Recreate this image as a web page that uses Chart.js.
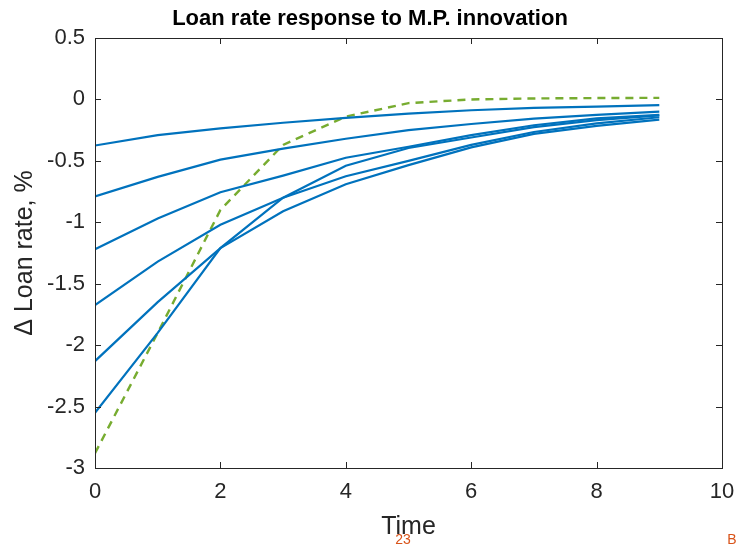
<!DOCTYPE html>
<html>
<head>
<meta charset="utf-8">
<title>Loan rate response</title>
<script src="https://cdn.jsdelivr.net/npm/chart.js@4.4.1/dist/chart.umd.min.js"></script>
<style>
    html, body { margin: 0; padding: 0; background: #fff; }
</style>
</head>
<body>
<canvas id="loanChart" width="738" height="547"></canvas>
<script>
// periods after the shock
const time = [0, 1, 2, 3, 4, 5, 6, 7, 8, 9];

// blue responses (one per initial level)
const resp1 = [-0.375, -0.29, -0.235, -0.19, -0.15, -0.115, -0.088, -0.068, -0.058, -0.046];
const resp2 = [-0.79, -0.63, -0.49, -0.40, -0.32, -0.25, -0.20, -0.157, -0.125, -0.10];
const resp3 = [-1.22, -0.97, -0.755, -0.62, -0.475, -0.385, -0.29, -0.21, -0.155, -0.125];
const resp4 = [-1.675, -1.32, -1.02, -0.80, -0.625, -0.50, -0.37, -0.265, -0.195, -0.145];
const resp5 = [-2.13, -1.65, -1.21, -0.91, -0.69, -0.535, -0.39, -0.28, -0.215, -0.165];
const resp6 = [-2.55, -1.90, -1.21, -0.80, -0.54, -0.395, -0.31, -0.225, -0.168, -0.13];

// green dashed response
const greenResp = [-2.88, -1.90, -0.90, -0.37, -0.14, -0.03, 0.0, 0.008, 0.011, 0.013];

const xTicks = [0, 2, 4, 6, 8, 10];
const yTicks = [0.5, 0, -0.5, -1, -1.5, -2, -2.5, -3];

const blue = '#0072BD';
const green = '#77AC30';
const axisColor = '#262626';
const fontFam = '"Liberation Sans", Arial, sans-serif';

function toPoints(ys) {
    return time.map(function(t, i) { return {x: t, y: ys[i]}; });
}

const blueSeries = [resp1, resp2, resp3, resp4, resp5, resp6];
const datasets = blueSeries.map(function(ys) {
    return {
        data: toPoints(ys),
        borderColor: blue,
        borderWidth: 2.2,
        pointRadius: 0,
        tension: 0,
        fill: false
    };
});
datasets.push({
    data: toPoints(greenResp),
    borderColor: green,
    borderWidth: 2.4,
    borderDash: [8, 6],
    pointRadius: 0,
    tension: 0,
    fill: false
});

// box, inward ticks and extra labels, matlab style
const boxPlugin = {
    id: 'boxPlugin',
    afterDraw(chart) {
        const ctx = chart.ctx;
        const a = chart.chartArea;
        const xs = chart.scales.x;
        const ys = chart.scales.y;
        const tick = 6;
        ctx.save();
        ctx.strokeStyle = axisColor;
        ctx.lineWidth = 1;
        ctx.strokeRect(Math.round(a.left) + 0.5, Math.round(a.top) + 0.5,
            Math.round(a.right - a.left), Math.round(a.bottom - a.top));
        ctx.beginPath();
        xTicks.forEach(function(v) {
            const px = Math.round(xs.getPixelForValue(v)) + 0.5;
            ctx.moveTo(px, a.bottom); ctx.lineTo(px, a.bottom - tick);
            ctx.moveTo(px, a.top); ctx.lineTo(px, a.top + tick);
        });
        yTicks.forEach(function(v) {
            const py = Math.round(ys.getPixelForValue(v)) + 0.5;
            ctx.moveTo(a.left, py); ctx.lineTo(a.left + tick, py);
            ctx.moveTo(a.right, py); ctx.lineTo(a.right - tick, py);
        });
        ctx.stroke();

        // title
        ctx.fillStyle = '#000';
        ctx.font = 'bold 22px ' + fontFam;
        ctx.textAlign = 'center';
        ctx.textBaseline = 'middle';
        ctx.fillText('Loan rate response to M.P. innovation', 370, 19);

        // stray orange labels
        ctx.fillStyle = '#D95319';
        ctx.font = '14px ' + fontFam;
        ctx.fillText('23', 403, 540);
        ctx.fillText('B', 732, 540);
        ctx.restore();
    }
};

const config = {
    type: 'line',
    data: { datasets: datasets },
    options: {
        responsive: false,
        devicePixelRatio: 1,
        animation: false,
        layout: { padding: { top: 38, right: 16, left: 0, bottom: 0 } },
        plugins: {
            legend: { display: false },
            tooltip: { enabled: false }
        },
        scales: {
            x: {
                type: 'linear',
                min: 0,
                max: 10,
                afterBuildTicks: function(scale) {
                    scale.ticks = xTicks.map(function(v) { return {value: v}; });
                },
                afterFit: function(scale) {
                    scale.height = 79;
                    scale.paddingLeft = 0;
                    scale.paddingRight = 0;
                },
                grid: { display: false, drawTicks: false },
                border: { display: false },
                ticks: {
                    color: axisColor,
                    padding: 11,
                    font: { family: fontFam, size: 22 },
                    maxRotation: 0
                },
                title: {
                    display: true,
                    text: 'Time',
                    color: axisColor,
                    font: { family: fontFam, size: 25 },
                    padding: { top: 0, bottom: 5 }
                }
            },
            y: {
                type: 'linear',
                min: -3,
                max: 0.5,
                afterBuildTicks: function(scale) {
                    scale.ticks = yTicks.map(function(v) { return {value: v}; });
                },
                afterFit: function(scale) {
                    scale.width = 95;
                    scale.paddingTop = 0;
                    scale.paddingBottom = 0;
                },
                grid: { display: false, drawTicks: false },
                border: { display: false },
                ticks: {
                    color: axisColor,
                    padding: 10,
                    font: { family: fontFam, size: 22 },
                    callback: function(v) { return String(v); }
                },
                title: {
                    display: true,
                    text: '\u0394 Loan rate, %',
                    color: axisColor,
                    font: { family: fontFam, size: 25 },
                    padding: { top: 10, bottom: 0 }
                }
            }
        }
    },
    plugins: [boxPlugin]
};

const loanChart = new Chart(document.getElementById('loanChart'), config);
</script>
</body>
</html>
